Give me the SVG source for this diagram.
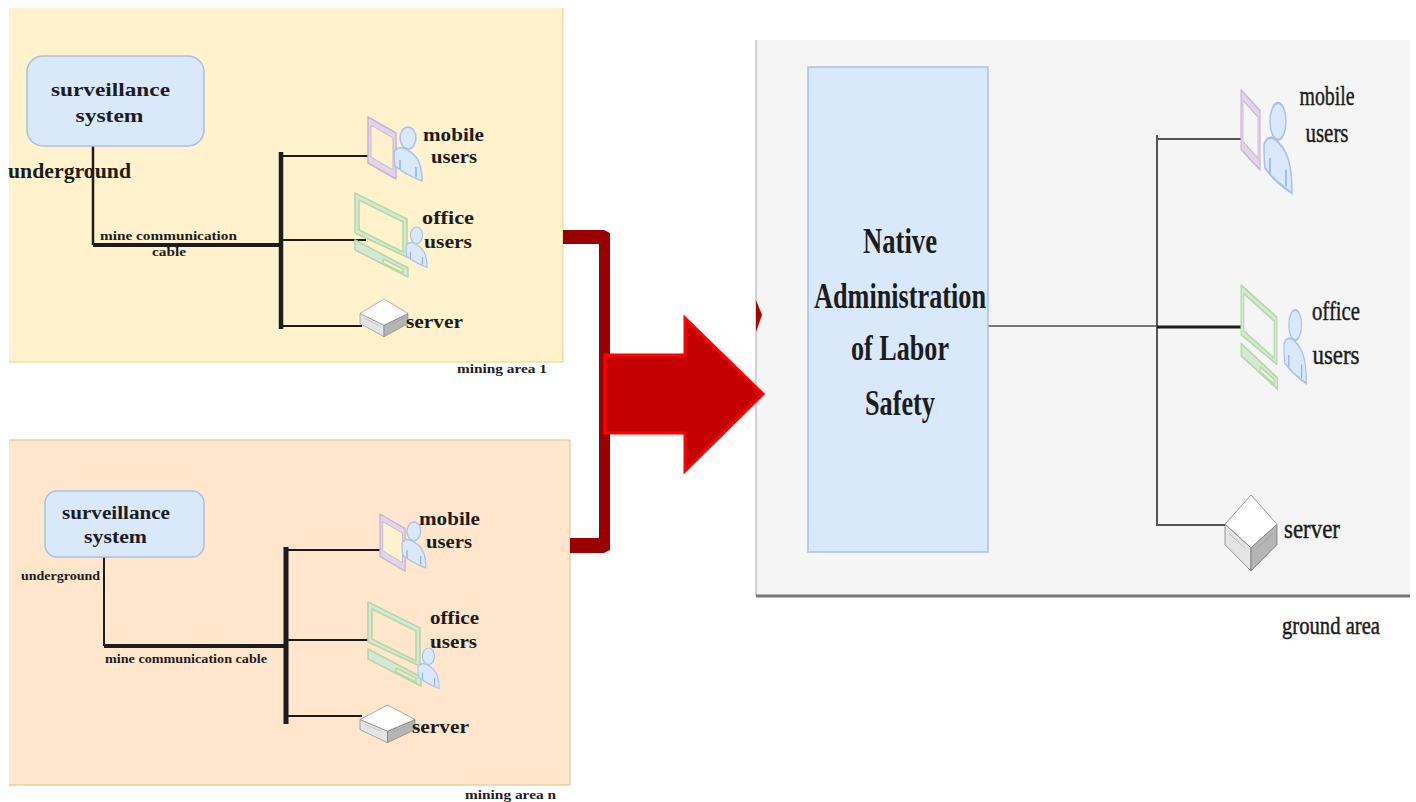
<svg xmlns="http://www.w3.org/2000/svg" width="1416" height="802" viewBox="0 0 1416 802">
<style>
text{font-family:"Liberation Serif","Times New Roman",serif;fill:#1c1c1c;text-anchor:middle}
.b{font-weight:bold}
.m{stroke:#1c1c1c;stroke-width:.45}
.box{fill:#dae8fc;stroke:#a9c0e2;stroke-width:1.5}
.wire{fill:none;stroke:#1a1a1a}
.phone{fill:#e1d5e7;stroke:#c9b3d6;stroke-width:1.5;stroke-linejoin:round}
.scr{stroke:#c9b3d6;stroke-width:1}
.person{fill:#dae8fc;stroke:#a9c3e8;stroke-width:1.5}
.arm{stroke:#8fb0e0;stroke-width:1.5;fill:none}
.pc{fill:#d5e8d4;stroke:#b5d8a8;stroke-width:1.6;stroke-linejoin:round}
.srv{stroke:#666;stroke-width:1.2;stroke-linejoin:round}
.sl{stroke:#999;stroke-width:1;fill:none}
</style>
<defs>
<filter id="soft" x="-5%" y="-5%" width="110%" height="110%"><feGaussianBlur stdDeviation="0.5"/></filter>
<g id="phoneI"><polygon class="phone" points="0,0 28,16 28,62 0,46"/><polygon class="scr" fill="#fff2cc" points="3,8 25,21 25,53 3,40"/></g>
<g id="phoneR"><polygon class="phone" points="0,0 28,16 28,62 0,46"/><polygon class="scr" fill="#f5f5f5" points="3,8 25,21 25,53 3,40"/></g>
<g id="personI"><ellipse class="person" cx="14" cy="11" rx="8" ry="11"/><path class="person" d="M0,25 C3,19 10,20 15,24 C23,29 28,36 28,54 C18,50 8,45 1,39 C0,34 0,29 0,25Z"/><path class="arm" d="M6,33V42M22,40V50"/></g>
<g id="pcI" class="pc"><polygon points="0,0 52,26 52,64 0,40"/><polygon fill="#fff2cc" points="4,7 48,29 48,59 4,37"/><polygon points="0,47 53,75 53,84 0,57"/><polygon fill="#fff2cc" points="28,66 48,76 48,80 28,70"/></g>
<g id="pcO" class="pc"><polygon points="0,0 52,26 52,64 0,40"/><polygon fill="#ffe6cc" points="4,7 48,29 48,59 4,37"/><polygon points="0,47 53,75 53,84 0,57"/><polygon fill="#ffe6cc" points="28,66 48,76 48,80 28,70"/></g>
<g id="pcR" class="pc"><polygon points="0,0 52,26 52,64 0,40"/><polygon fill="#f5f5f5" points="4,7 48,29 48,59 4,37"/><polygon points="0,47 53,75 53,84 0,57"/><polygon fill="#f5f5f5" points="28,66 48,76 48,80 28,70"/></g>
<g id="srvI"><polygon class="srv" fill="#e4e4e4" points="0,50 50,90 50,130 0,85"/><polygon class="srv" fill="#b5b5b5" points="100,50 50,90 50,130 100,85"/><polygon class="srv" fill="#fff" points="50,0 100,50 50,90 0,50"/><path class="sl" d="M8,66 40,92M60,92 92,66"/></g>
</defs>

<g id="panels">
<rect id="area1" x="9" y="8" width="554" height="354" fill="#fff2cc"/>
<path d="M563,8V362H9" fill="none" stroke="#e5d48f"/>
<rect id="arean" x="9" y="440" width="561" height="345" fill="#ffe6cc"/>
<path d="M9,440H570V785H9" fill="none" stroke="#d9c487"/>
<rect id="groundarea" x="756" y="40" width="654" height="556" fill="#f5f5f5"/>
<path d="M756,40V596" stroke="#aaa" fill="none"/>
<path d="M756,596H1410" stroke="#777" stroke-width="3" fill="none"/>
</g>

<g id="connectors" filter="url(#soft)">
<path class="wire" stroke-width="2.500" d="M93,146V245"/>
<path class="wire" stroke-width="4" d="M93,245H281"/>
<path class="wire" stroke-width="4.500" d="M281,152V329"/>
<path class="wire" stroke-width="2" d="M281,156H369M281,240H366M281,326H362"/>
<path class="wire" stroke-width="2" d="M104,557V646"/>
<path class="wire" stroke-width="4" d="M104,646H286"/>
<path class="wire" stroke-width="5" d="M286,547V724"/>
<path class="wire" stroke-width="2" d="M286,550H382M286,640H369M286,716H362"/>
<path fill="none" stroke="#777" stroke-width="2" d="M988,326H1157"/>
<path fill="none" stroke="#555" stroke-width="2" d="M1157,135V525H1226M1157,139H1241"/>
<path class="wire" stroke-width="3" d="M1157,327H1241"/>
<polygon id="bracket" fill="#990000" points="563,230 604,230 610,233 610,550 604,553 570,553 570,538 599,538 599,244 563,244"/>
<polygon id="mainarrow" points="605,355 685,355 685,318 763,394 685,471 685,433 605,433" fill="#c40000" stroke="#ff0000" stroke-width="3"/>
<polygon id="arrowmark" points="756,300 762,315 756,332" fill="#b00000"/>
</g>

<g id="surveillance1"><rect class="box" x="27" y="56" width="177" height="90" rx="16"/>
<text class="b" font-size="19" x="110.500" y="96" textLength="119" lengthAdjust="spacingAndGlyphs">surveillance</text><text class="b" font-size="19" x="109.500" y="122" textLength="68" lengthAdjust="spacingAndGlyphs">system</text></g>
<text class="b" font-size="21" x="69.500" y="178" textLength="123" lengthAdjust="spacingAndGlyphs">underground</text>
<text class="b" font-size="12" x="168.500" y="240" textLength="137" lengthAdjust="spacingAndGlyphs">mine communication</text>
<text class="b" font-size="12" x="169" y="256" textLength="34" lengthAdjust="spacingAndGlyphs">cable</text>

<g id="mobile1" filter="url(#soft)"><use href="#phoneI" transform="translate(368,117)"/><use href="#personI" transform="translate(394,127)"/></g>
<text class="b" font-size="18" x="453.500" y="141" textLength="61" lengthAdjust="spacingAndGlyphs">mobile</text><text class="b" font-size="18" x="454" y="163" textLength="46" lengthAdjust="spacingAndGlyphs">users</text>
<g id="office1" filter="url(#soft)"><use href="#pcI" transform="translate(355,193)"/><use href="#personI" transform="translate(406,227) scale(.75)"/></g>
<text class="b" font-size="18" x="448" y="224" textLength="52" lengthAdjust="spacingAndGlyphs">office</text><text class="b" font-size="18" x="448" y="248" textLength="48" lengthAdjust="spacingAndGlyphs">users</text>
<g id="server1" filter="url(#soft)"><use href="#srvI" transform="translate(360,299) scale(.48,.29)"/></g>
<text class="b" font-size="18" x="434.500" y="328" textLength="57" lengthAdjust="spacingAndGlyphs">server</text>
<text class="b" font-size="12" x="502" y="373" textLength="90" lengthAdjust="spacingAndGlyphs">mining area 1</text>

<g id="surveillancen"><rect class="box" x="45" y="491" width="159" height="66" rx="12"/>
<text class="b" font-size="18" x="116" y="519" textLength="108" lengthAdjust="spacingAndGlyphs">surveillance</text><text class="b" font-size="18" x="115.500" y="543" textLength="63" lengthAdjust="spacingAndGlyphs">system</text></g>
<text class="b" font-size="12.500" x="60.500" y="580" textLength="79" lengthAdjust="spacingAndGlyphs">underground</text>
<text class="b" font-size="12" x="186" y="663" textLength="162" lengthAdjust="spacingAndGlyphs">mine communication cable</text>

<g id="mobilen" filter="url(#soft)"><use href="#phoneI" transform="translate(380,514) scale(.9,.92)"/><use href="#personI" transform="translate(402,522) scale(.85)"/></g>
<text class="b" font-size="18" x="449.500" y="525" textLength="61" lengthAdjust="spacingAndGlyphs">mobile</text><text class="b" font-size="18" x="449" y="548" textLength="46" lengthAdjust="spacingAndGlyphs">users</text>
<g id="officen" filter="url(#soft)"><use href="#pcO" transform="translate(368,602)"/><use href="#personI" transform="translate(418,648) scale(.75)"/></g>
<text class="b" font-size="18" x="454.500" y="624" textLength="49" lengthAdjust="spacingAndGlyphs">office</text><text class="b" font-size="18" x="453.500" y="648" textLength="47" lengthAdjust="spacingAndGlyphs">users</text>
<g id="servern" filter="url(#soft)"><use href="#srvI" transform="translate(360,705) scale(.55,.29)"/></g>
<text class="b" font-size="18" x="440.500" y="733" textLength="57" lengthAdjust="spacingAndGlyphs">server</text>
<text class="b" font-size="12" x="510.500" y="799" textLength="91" lengthAdjust="spacingAndGlyphs">mining area n</text>

<g id="nals"><rect class="box" x="808" y="67" width="180" height="485" stroke="#7ea6e0"/>
<text class="b" font-size="36" x="900" y="253" textLength="74" lengthAdjust="spacingAndGlyphs">Native</text>
<text class="b" font-size="36" x="900" y="308" textLength="172" lengthAdjust="spacingAndGlyphs">Administration</text>
<text class="b" font-size="36" x="900" y="360" textLength="98" lengthAdjust="spacingAndGlyphs">of Labor</text>
<text class="b" font-size="36" x="900" y="415" textLength="70" lengthAdjust="spacingAndGlyphs">Safety</text></g>

<g id="mobileg" filter="url(#soft)"><use href="#phoneR" transform="translate(1241,90) scale(.68,1.29)"/><use href="#personI" transform="translate(1264,103) scale(1,1.67)"/></g>
<text class="m" font-size="28" x="1327" y="105" textLength="55" lengthAdjust="spacingAndGlyphs">mobile</text>
<text class="m" font-size="28" x="1327" y="142" textLength="43" lengthAdjust="spacingAndGlyphs">users</text>
<g id="officeg" filter="url(#soft)"><use href="#pcR" transform="translate(1241,285) scale(.69,1.24)"/><use href="#personI" transform="translate(1284,310) scale(.8,1.36)"/></g>
<text class="m" font-size="28" x="1336" y="320" textLength="48" lengthAdjust="spacingAndGlyphs">office</text>
<text class="m" font-size="28" x="1336" y="364" textLength="47" lengthAdjust="spacingAndGlyphs">users</text>
<g id="serverg" filter="url(#soft)"><use href="#srvI" transform="translate(1225,495) scale(.52,.585)"/></g>
<text class="m" font-size="27" x="1312" y="538" textLength="56" lengthAdjust="spacingAndGlyphs">server</text>
<text class="m" font-size="25" x="1331" y="634" textLength="98" lengthAdjust="spacingAndGlyphs">ground area</text>
</svg>
